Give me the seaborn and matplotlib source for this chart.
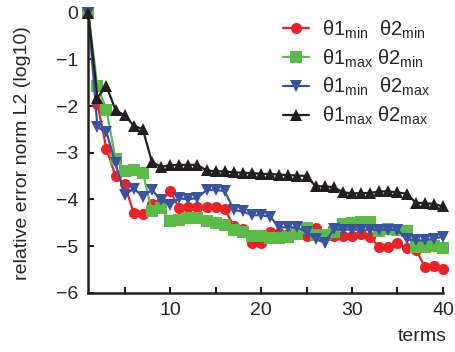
import numpy as np
import pandas as pd
import matplotlib
matplotlib.use("Agg")
import matplotlib.pyplot as plt
import seaborn as sns

terms = list(range(1, 41))
red = [0, -1.95, -2.92, -3.5, -3.68, -4.3, -4.32, -4.1, -4.05, -3.82,
       -4.19, -4.17, -4.16, -4.16, -4.17, -4.21, -4.57, -4.63, -4.94, -4.94,
       -4.7, -4.72, -4.75, -4.72, -4.78, -4.62, -4.78, -4.78, -4.78, -4.78,
       -4.75, -4.8, -5.03, -5.03, -4.94, -5.05, -5.08, -5.44, -5.42, -5.5]
green = [0, -1.57, -2.08, -3.14, -3.39, -3.38, -3.43, -4.25, -4.18, -4.47,
         -4.45, -4.41, -4.41, -4.46, -4.51, -4.55, -4.66, -4.69, -4.79, -4.79,
         -4.82, -4.82, -4.8, -4.75, -4.62, -4.77, -4.77, -4.7, -4.53, -4.51,
         -4.48, -4.48, -4.67, -4.63, -4.65, -4.68, -5.02, -5.02, -5.0, -5.04]
blue = [0, -2.45, -2.56, -3.23, -3.91, -3.77, -3.94, -3.8, -4.01, -4.12,
        -3.98, -4.0, -3.97, -3.8, -3.8, -3.82, -4.23, -4.26, -4.34, -4.34,
        -4.37, -4.6, -4.6, -4.6, -4.7, -4.85, -4.93, -4.64, -4.65, -4.65,
        -4.65, -4.65, -4.65, -4.65, -4.65, -4.86, -4.88, -4.88, -4.84, -4.8]
black = [0, -1.82, -1.57, -2.09, -2.2, -2.42, -2.5, -3.2, -3.3, -3.27,
         -3.26, -3.26, -3.26, -3.38, -3.4, -3.4, -3.42, -3.43, -3.44, -3.45,
         -3.46, -3.47, -3.48, -3.49, -3.5, -3.72, -3.72, -3.74, -3.85, -3.87,
         -3.87, -3.86, -3.83, -3.83, -3.85, -3.88, -4.07, -4.08, -4.1, -4.15]

labels = [r"θ1$_\mathregular{min}$  θ2$_\mathregular{min}$",
          r"θ1$_\mathregular{max}$ θ2$_\mathregular{min}$",
          r"θ1$_\mathregular{min}$  θ2$_\mathregular{max}$",
          r"θ1$_\mathregular{max}$ θ2$_\mathregular{max}$"]
series = [red, green, blue, black]
colors = ["#ec2227", "#5bbb47", "#3953a4", "#231f20"]
markers = ["o", "s", "v", "^"]

df = pd.concat([pd.DataFrame({"terms": terms, "err": s, "case": lab})
                for s, lab in zip(series, labels)], ignore_index=True)

sns.set_style("ticks")
plt.rcParams["font.family"] = ["Liberation Sans", "DejaVu Sans"]
plt.rcParams["mathtext.fontset"] = "custom"
plt.rcParams["mathtext.rm"] = "Liberation Sans"

fig = plt.figure(figsize=(4.56, 3.52), dpi=100)
ax = fig.add_axes([0.1936, 0.1685, 0.7778, 0.7955])

sns.lineplot(data=df, x="terms", y="err", hue="case", style="case",
             hue_order=labels, style_order=labels,
             palette=dict(zip(labels, colors)),
             markers=dict(zip(labels, markers)), dashes=False,
             markersize=8, markeredgewidth=0, linewidth=1.6,
             ax=ax, clip_on=False, legend=True)

ax.set_xlim(1, 40)
ax.set_ylim(-6, 0)
ax.set_xticks([10, 20, 30, 40])
ax.set_xticks([5, 15, 25, 35], minor=True)
ax.set_yticks([0, -1, -2, -3, -4, -5, -6])
ax.set_yticklabels(["0", "−1", "−2", "−3", "−4", "−5", "−6"])
ax.tick_params(axis="both", which="both", direction="in", labelsize=14,
               width=1.5, length=4, color="#231f20", pad=7)
for sp in ["top", "right"]:
    ax.spines[sp].set_visible(False)
for sp in ["left", "bottom"]:
    ax.spines[sp].set_linewidth(1.8)
    ax.spines[sp].set_color("#231f20")

ax.set_ylabel("relative error norm L2 (log10)", fontsize=14)
ax.yaxis.set_label_coords(-0.162, 0.5)
ax.set_xlabel("terms", fontsize=14)
ax.xaxis.set_label_coords(1.012, -0.126)
ax.xaxis.label.set_horizontalalignment("right")

h, l = ax.get_legend_handles_labels()
ax.legend(h, l, loc="upper right", frameon=False, fontsize=14.5,
          handlelength=1.3, handletextpad=0.6, labelspacing=0.32,
          borderaxespad=0.0, bbox_to_anchor=(0.985, 1.008))

fig.savefig("out.png", dpi=100)
